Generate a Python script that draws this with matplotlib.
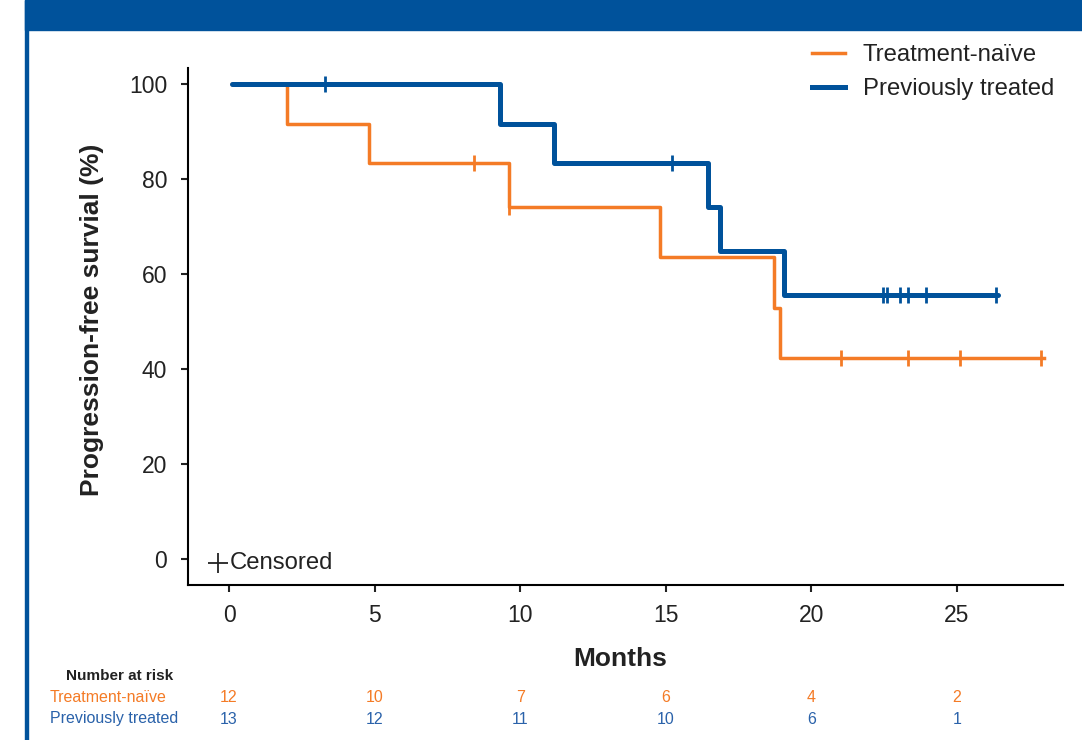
import numpy as np
import matplotlib
matplotlib.use("Agg")
import matplotlib.pyplot as plt
import matplotlib.transforms as mtransforms
from matplotlib.patches import Rectangle
from matplotlib.lines import Line2D

plt.rcParams["font.family"] = ["Liberation Sans", "DejaVu Sans"]

ORANGE = "#F47B26"
BLUE = "#00529B"
BLUE_TXT = "#2A62AA"
HEADER = "#00529B"

# Kaplan-Meier steps
naive_t = [0.1, 2.0, 4.8, 9.6, 14.8, 18.7, 18.92, 28.0]
naive_s = [100, 91.7, 83.3, 74.1, 63.5, 52.9, 42.3, 42.3]
naive_cens = [8.4, 9.6, 21.0, 23.3, 25.1, 27.9]

prev_t = [0.1, 9.3, 11.15, 16.45, 16.85, 19.05, 26.4]
prev_s = [100, 91.7, 83.3, 74.1, 64.8, 55.5, 55.5]
prev_cens = [3.3, 15.2, 22.45, 22.6, 23.05, 23.3, 23.95, 26.35]

risk_times = [0, 5, 10, 15, 20, 25]
risk_naive = [12, 10, 7, 6, 4, 2]
risk_prev = [13, 12, 11, 10, 6, 1]


def step_level(t, s, x):
    idx = np.searchsorted(t, x, side="right") - 1
    return np.array(s)[idx]


fig = plt.figure(figsize=(10.82, 7.40), dpi=100)
ax = fig.add_axes([188 / 1082, 1 - 585 / 740, (1063 - 188) / 1082, (585 - 68) / 740])

# header band and left rule
fig.patches.append(Rectangle((25 / 1082, 1 - 30 / 740), 1, 30 / 740,
                             transform=fig.transFigure, color=HEADER, zorder=0))
fig.patches.append(Rectangle((25 / 1082, 0), 3 / 1082, 1,
                             transform=fig.transFigure, color=HEADER, zorder=0))

ax.step(naive_t, naive_s, where="post", color=ORANGE, lw=2.5, zorder=3)
ax.step(prev_t, prev_s, where="post", color=BLUE, lw=3.6, zorder=4,
        solid_capstyle="round")
ax.plot(naive_cens, step_level(naive_t, naive_s, naive_cens), ls="none",
        marker="|", ms=12, mew=2, color=ORANGE, zorder=3)
ax.plot(prev_cens, step_level(prev_t, prev_s, prev_cens), ls="none",
        marker="|", ms=12, mew=2, color=BLUE, zorder=4)

ax.set_xlim(-1.41, 28.64)
ax.set_ylim(-5.47, 103.4)
ax.set_xticks(risk_times)
ax.set_yticks([0, 20, 40, 60, 80, 100])
ax.tick_params(axis="both", direction="out", length=5, width=1.5,
               labelsize=16.5, colors="#222222")
ax.tick_params(axis="x", pad=9)
ax.tick_params(axis="y", pad=10)
for side in ["top", "right"]:
    ax.spines[side].set_visible(False)
for side in ["left", "bottom"]:
    ax.spines[side].set_linewidth(1.5)

ax.set_xlabel("Months", fontsize=19, fontweight="bold", color="#222222")
ax.xaxis.set_label_coords((620 - 188) / 875, (585 - 647) / 517)
ax.set_ylabel("Progression-free survial (%)", fontsize=19, fontweight="bold",
              color="#222222")
ax.yaxis.set_label_coords((104 - 188) / 875, (585 - 320) / 517)

# censored key
ax.plot([(218 - 188) / 875], [(585 - 563) / 517], transform=ax.transAxes,
        marker="+", ms=15, mew=1.3, color="#222222", clip_on=False)
ax.text((230 - 188) / 875, (585 - 563) / 517, "Censored", transform=ax.transAxes,
        fontsize=17.2, va="center", ha="left", color="#222222")

handles = [Line2D([], [], color=ORANGE, lw=2.5),
           Line2D([], [], color=BLUE, lw=3.6)]
leg = fig.legend(handles, ["Treatment-naïve", "Previously treated"],
                 loc="upper left", bbox_to_anchor=(812 / 1082, 1 - 44 / 740),
                 frameon=False, fontsize=17.2, handlelength=1.4,
                 handletextpad=0.72, labelspacing=0.5, borderpad=0,
                 borderaxespad=0)
for txt in leg.get_texts():
    txt.set_color("#222222")

# number at risk table
trans = mtransforms.blended_transform_factory(ax.transData, fig.transFigure)
fig.text(120 / 1082, 1 - 676 / 740, "Number at risk", fontsize=11,
         fontweight="bold", ha="center", va="center", color="#222222")
fig.text(50 / 1082, 1 - 697 / 740, "Treatment-naïve", fontsize=11.5,
         ha="left", va="center", color=ORANGE)
fig.text(50 / 1082, 1 - 719 / 740, "Previously treated", fontsize=11.5,
         ha="left", va="center", color=BLUE_TXT)
for t, n1, n2 in zip(risk_times, risk_naive, risk_prev):
    ax.text(t, 1 - 697 / 740, str(n1), transform=trans, fontsize=11.5,
            ha="center", va="center", color=ORANGE)
    ax.text(t, 1 - 719 / 740, str(n2), transform=trans, fontsize=11.5,
            ha="center", va="center", color=BLUE_TXT)

fig.savefig("out.png", dpi=100)
